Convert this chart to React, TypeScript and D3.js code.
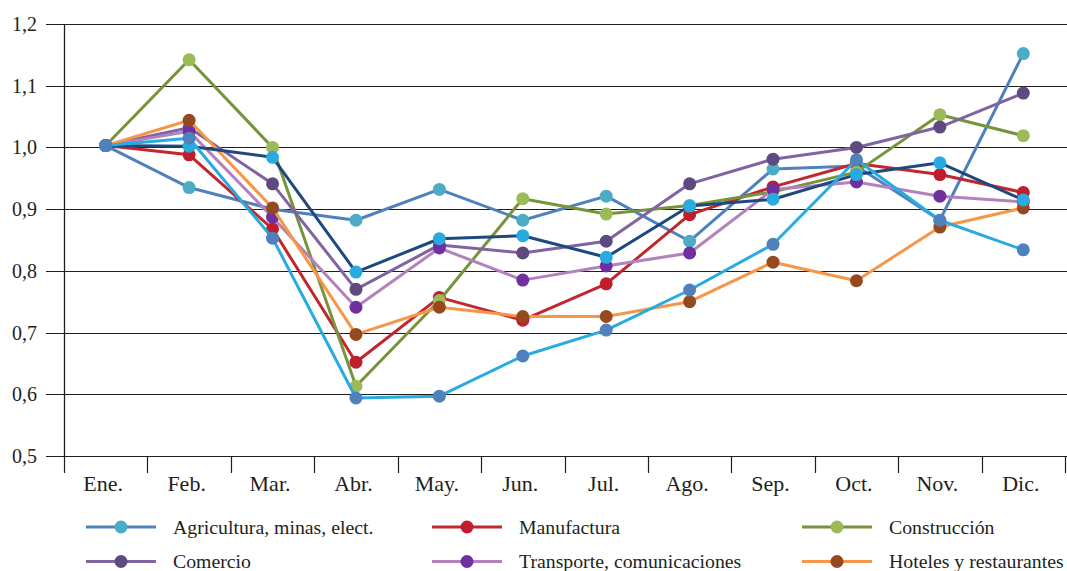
import React from "react";
import * as d3 from "d3";

const months = ["Ene.", "Feb.", "Mar.", "Abr.", "May.", "Jun.", "Jul.", "Ago.", "Sep.", "Oct.", "Nov.", "Dic."];
const yTicks = [0.5, 0.6, 0.7, 0.8, 0.9, 1.0, 1.1, 1.2];

const agricultura = [1.003, 0.935, 0.9, 0.882, 0.932, 0.882, 0.921, 0.848, 0.965, 0.97, 0.882, 1.152];
const manufactura = [1.003, 0.988, 0.868, 0.652, 0.757, 0.72, 0.779, 0.891, 0.936, 0.974, 0.956, 0.927];
const construccion = [1.003, 1.142, 1.0, 0.613, 0.752, 0.917, 0.892, 0.906, 0.928, 0.96, 1.053, 1.019];
const comercio = [1.003, 1.032, 0.941, 0.77, 0.842, 0.829, 0.848, 0.941, 0.981, 1.0, 1.033, 1.088];
const transporte = [1.003, 1.026, 0.887, 0.741, 0.837, 0.785, 0.808, 0.829, 0.932, 0.944, 0.921, 0.912];
const hoteles = [1.003, 1.044, 0.902, 0.697, 0.741, 0.726, 0.726, 0.75, 0.814, 0.784, 0.871, 0.902];
const serieOscura = [1.003, 1.002, 0.984, 0.798, 0.852, 0.857, 0.822, 0.905, 0.916, 0.956, 0.975, 0.915];
const serieCeleste = [1.003, 1.015, 0.853, 0.594, 0.597, 0.662, 0.704, 0.769, 0.843, 0.98, 0.882, 0.834];

const seriesNames = [
  "Agricultura, minas, elect.",
  "Manufactura",
  "Construcción",
  "Comercio",
  "Transporte, comunicaciones",
  "Hoteles y restaurantes",
  "",
  "",
];
const seriesValues = [agricultura, manufactura, construccion, comercio, transporte, hoteles, serieOscura, serieCeleste];
const lineColors = ["#4f81bd", "#c1272d", "#77933c", "#8064a2", "#b381be", "#f79646", "#1f497d", "#29abe2"];
const markerColors = ["#4bacc6", "#be1e2d", "#9bbb59", "#5f4a7f", "#7030a0", "#944a1e", "#29abe2", "#4f81bd"];

const W = 1067;
const H = 571;
const FONT = "'Liberation Serif', 'Times New Roman', serif";
const TXT = "#231f20";

export default function App() {
  const x = d3.scaleBand<string>().domain(months).range([64, 1065]);
  const y = d3.scaleLinear().domain([0.5, 1.2]).range([456, 24]);
  const cx = (i: number) => (x(months[i]) as number) + x.bandwidth() / 2;
  const line = d3
    .line<number>()
    .x((_, i) => cx(i))
    .y((d) => y(d));

  const boundaries = months.map((m) => x(m) as number).concat([x.range()[1]]);

  const legendCols = [86, 432, 802];
  const legendRows = [527, 561.5];

  return (
    <svg width={W} height={H} style={{ position: "absolute", left: 0, top: 0, background: "#fff" }}>
      {yTicks.map((t) => (
        <g key={t}>
          <line x1={46} x2={W} y1={Math.round(y(t)) + 0.5} y2={Math.round(y(t)) + 0.5} stroke="#1e1e1e" strokeWidth={1.2} />
          <text x={37} y={y(t)} dy="0.35em" textAnchor="end" fontFamily={FONT} fontSize={20} fill={TXT}>
            {d3.format(".1f")(t).replace(".", ",")}
          </text>
        </g>
      ))}
      <line x1={64.5} x2={64.5} y1={y(1.2)} y2={y(0.5)} stroke="#1e1e1e" strokeWidth={1.3} />
      {boundaries.map((b, i) => (
        <line key={i} x1={Math.round(b) + 0.5} x2={Math.round(b) + 0.5} y1={y(0.5)} y2={y(0.5) + 17} stroke="#1e1e1e" strokeWidth={1.2} />
      ))}
      {months.map((m, i) => (
        <text key={m} x={cx(i) - 2.5} y={491} textAnchor="middle" fontFamily={FONT} fontSize={22} fill={TXT}>
          {m}
        </text>
      ))}
      {seriesValues.map((vals, s) => (
        <g key={s}>
          <path d={line(vals) as string} fill="none" stroke={lineColors[s]} strokeWidth={3} strokeLinejoin="round" />
          {vals.map((v, i) => (
            <circle key={i} cx={cx(i)} cy={y(v)} r={6.5} fill={markerColors[s]} />
          ))}
        </g>
      ))}
      {seriesNames.slice(0, 6).map((name, s) => {
        const col = s % 3;
        const row = Math.floor(s / 3);
        const lx = legendCols[col];
        const ly = legendRows[row];
        return (
          <g key={name}>
            <line x1={lx} x2={lx + 70} y1={ly} y2={ly} stroke={lineColors[s]} strokeWidth={3} />
            <circle cx={lx + 35} cy={ly} r={6.5} fill={markerColors[s]} />
            <text x={lx + 87} y={ly} dy="0.33em" fontFamily={FONT} fontSize={19.8} fill={TXT}>
              {name}
            </text>
          </g>
        );
      })}
    </svg>
  );
}
